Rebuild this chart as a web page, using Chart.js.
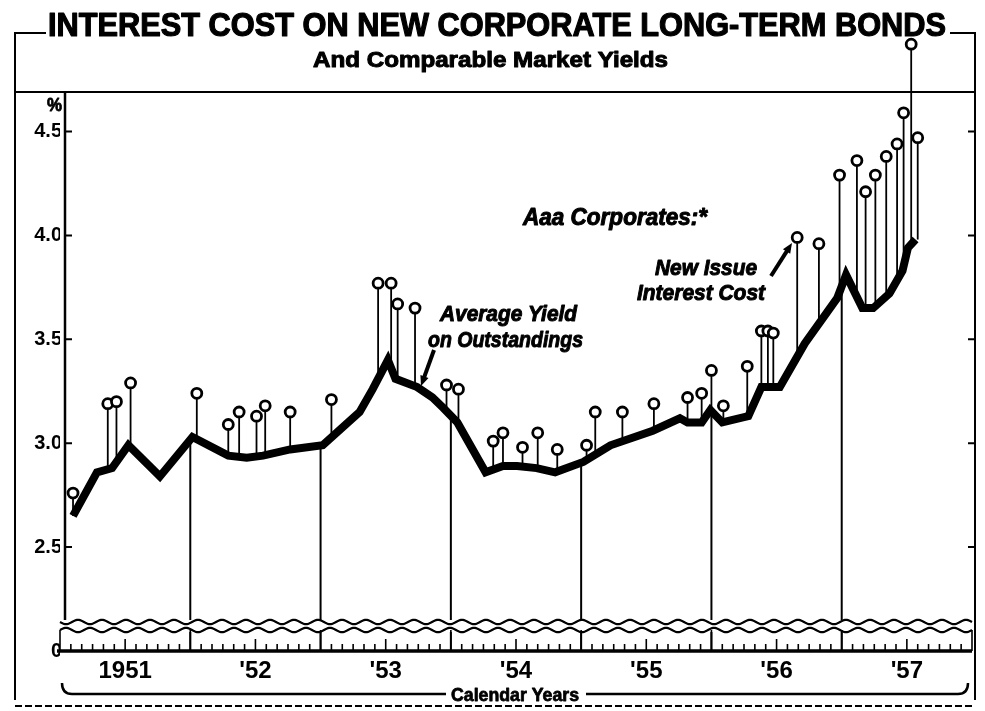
<!DOCTYPE html>
<html>
<head>
<meta charset="utf-8">
<title>Interest Cost on New Corporate Long-Term Bonds</title>
<script src="https://cdn.jsdelivr.net/npm/chart.js@4.4.1/dist/chart.umd.min.js"></script>
<style>
  html, body { margin: 0; padding: 0; background: #fff; }
  #wrap { width: 985px; height: 711px; }
</style>
</head>
<body>
<div id="wrap"><canvas id="bondChart" width="985" height="711"></canvas></div>
<script>
// months counted from the start of Jan 1951
const aaaMonths = [1.2, 3.4, 4.8, 6.3, 9.2, 12.2, 15.5, 17.2, 18.7, 21.2, 24.2, 27.6, 28.8, 30.2, 30.9,
  32.9, 34.3, 35.3, 36.6, 39.2, 40.8, 42.1, 43.9, 45.6, 48.2, 50.7, 54.6, 57.1, 57.8, 59.1, 59.9,
  61.0, 63.4, 64.6, 66.3, 68.6, 71.6, 72.4, 73.9, 74.9, 76.4, 77.6, 78.1, 78.8];
const aaaYields = [2.65, 2.86, 2.88, 2.99, 2.84, 3.03, 2.94, 2.93, 2.94, 2.97, 2.99, 3.15, 3.26, 3.40, 3.31,
  3.27, 3.22, 3.17, 3.10, 2.86, 2.89, 2.89, 2.88, 2.86, 2.91, 2.99, 3.06, 3.12, 3.10, 3.10, 3.16,
  3.10, 3.13, 3.27, 3.27, 3.48, 3.70, 3.81, 3.65, 3.65, 3.72, 3.83, 3.94, 3.98];

const issueMonths = [1.2, 4.4, 5.2, 6.5, 12.6, 15.5, 16.5, 18.1, 18.9, 21.2, 25.0, 29.3, 30.5, 31.1, 32.7,
  35.6, 36.7, 39.9, 40.8, 42.6, 44.0, 45.8, 48.5, 49.3, 51.8, 54.7, 57.8, 59.1, 60.0, 61.1, 63.3,
  64.6, 65.2, 65.7, 67.9, 69.9, 71.8, 73.4, 74.2, 75.1, 76.1, 77.1, 77.7, 78.4, 79.0];
const issueYields = [2.76, 3.19, 3.20, 3.29, 3.24, 3.09, 3.15, 3.13, 3.18, 3.15, 3.21, 3.77, 3.77, 3.67, 3.65,
  3.28, 3.26, 3.01, 3.05, 2.98, 3.05, 2.97, 2.99, 3.15, 3.15, 3.19, 3.22, 3.24, 3.35, 3.18, 3.37,
  3.54, 3.54, 3.53, 3.99, 3.96, 4.29, 4.36, 4.21, 4.29, 4.38, 4.44, 4.59, 4.92, 4.47];

const yearMids = [6, 18, 30, 42, 54, 66, 78];
const yearLabels = ["1951", "'52", "'53", "'54", "'55", "'56", "'57"];
const yearBreaks = [12, 24, 36, 48, 60, 72];
const yTicks = [2.0, 2.5, 3.0, 3.5, 4.0, 4.5];

const FONT = "'Liberation Sans', Arial, Helvetica, sans-serif";
Chart.defaults.font.family = FONT;
Chart.defaults.color = "#000";

// draw text squeezed to a given width (the original lettering is condensed and heavy)
function fitText(ctx, text, left, baseline, width, font, heavy) {
  ctx.save();
  ctx.font = font;
  const w = ctx.measureText(text).width;
  ctx.translate(left, baseline);
  ctx.scale(width / w, 1);
  ctx.textAlign = "left";
  ctx.textBaseline = "alphabetic";
  ctx.fillStyle = "#000";
  ctx.fillText(text, 0, 0);
  if (heavy) {
    ctx.strokeStyle = "#000";
    ctx.lineWidth = heavy;
    ctx.lineJoin = "round";
    ctx.strokeText(text, 0, 0);
  }
  ctx.restore();
}

function lineYAt(chart, px) {
  const pts = chart.getDatasetMeta(0).data;
  if (px <= pts[0].x) return pts[0].y;
  for (let i = 1; i < pts.length; i++) {
    const a = pts[i - 1], b = pts[i];
    if (px <= b.x) {
      const t = (px - a.x) / (b.x - a.x);
      return a.y + t * (b.y - a.y);
    }
  }
  return pts[pts.length - 1].y;
}

function arrow(ctx, x1, y1, x2, y2) {
  const ang = Math.atan2(y2 - y1, x2 - x1);
  ctx.save();
  ctx.strokeStyle = "#000";
  ctx.fillStyle = "#000";
  ctx.lineWidth = 4;
  ctx.beginPath();
  ctx.moveTo(x1, y1);
  ctx.lineTo(x2 - 6 * Math.cos(ang), y2 - 6 * Math.sin(ang));
  ctx.stroke();
  ctx.beginPath();
  ctx.moveTo(x2, y2);
  ctx.lineTo(x2 - 11 * Math.cos(ang - 0.4), y2 - 11 * Math.sin(ang - 0.4));
  ctx.lineTo(x2 - 11 * Math.cos(ang + 0.4), y2 - 11 * Math.sin(ang + 0.4));
  ctx.closePath();
  ctx.fill();
  ctx.restore();
}

const decorPlugin = {
  id: "decor",
  beforeDatasetsDraw(chart) {
    const ctx = chart.ctx;
    const xs = chart.scales.x, ys = chart.scales.y;
    const axisY = ys.getPixelForValue(2.0);
    const waveTop = 622, waveBot = 630;
    const yAxisX = 65, frameR = 975;

    ctx.save();
    ctx.strokeStyle = "#000";
    ctx.lineCap = "butt";

    // outer frame with the title set into its top edge
    ctx.lineWidth = 2;
    ctx.beginPath();
    ctx.moveTo(46, 33); ctx.lineTo(15, 33); ctx.lineTo(15, 700);
    ctx.moveTo(950, 33); ctx.lineTo(frameR, 33); ctx.lineTo(frameR, 700);
    ctx.moveTo(15, 92); ctx.lineTo(frameR, 92);
    ctx.stroke();
    ctx.setLineDash([7, 3]);
    ctx.beginPath();
    ctx.moveTo(15, 706); ctx.lineTo(frameR, 706);
    ctx.stroke();
    ctx.setLineDash([]);

    fitText(ctx, "INTEREST COST ON NEW CORPORATE LONG-TERM BONDS", 48, 36, 898, "bold 33px " + FONT, 1.2);
    fitText(ctx, "And Comparable Market Yields", 313, 67, 355, "bold 22px " + FONT, 1);

    // left axis line and inward ticks on both sides
    ctx.lineWidth = 2.5;
    ctx.beginPath();
    ctx.moveTo(yAxisX, 92); ctx.lineTo(yAxisX, waveTop);
    ctx.stroke();
    ctx.lineWidth = 2;
    yTicks.slice(1).forEach(v => {
      const py = ys.getPixelForValue(v);
      ctx.beginPath();
      ctx.moveTo(yAxisX, py); ctx.lineTo(yAxisX + 7, py);
      ctx.moveTo(frameR, py); ctx.lineTo(frameR - 7, py);
      ctx.stroke();
    });
    fitText(ctx, "%", 47, 111, 15, "bold 19px " + FONT, 0.8);

    // year drop lines from the Aaa line to the base
    ctx.lineWidth = 2;
    yearBreaks.forEach(m => {
      const px = xs.getPixelForValue(m);
      ctx.beginPath();
      ctx.moveTo(px, lineYAt(chart, px)); ctx.lineTo(px, axisY);
      ctx.stroke();
    });

    // stems from each new-issue circle down to the Aaa line
    ctx.lineWidth = 1.8;
    chart.getDatasetMeta(1).data.forEach(pt => {
      ctx.beginPath();
      ctx.moveTo(pt.x, pt.y); ctx.lineTo(pt.x, lineYAt(chart, pt.x));
      ctx.stroke();
    });

    // broken scale: two wavy lines
    const x0 = xs.getPixelForValue(0), x1 = xs.getPixelForValue(84);
    ctx.fillStyle = "#fff";
    ctx.fillRect(x0, waveTop - 2, x1 - x0, waveBot - waveTop + 4);
    ctx.lineWidth = 2.2;
    [[waveTop, 1], [waveBot, -1]].forEach(([wy, sgn]) => {
      ctx.beginPath();
      for (let px = x0; px <= x1; px += 1) {
        const yy = wy + sgn * 2.2 * Math.sin((px - x0) * 2 * Math.PI / 24);
        if (px === x0) ctx.moveTo(px, yy); else ctx.lineTo(px, yy);
      }
      ctx.stroke();
    });

    // month ticks on the base strip
    ctx.lineWidth = 1.6;
    for (let m = 0; m <= 84; m++) {
      const px = xs.getPixelForValue(m);
      let top = axisY - 7;
      if (m % 12 === 0) top = waveBot;
      else if (m % 6 === 0) top = axisY - 12;
      ctx.beginPath();
      ctx.moveTo(px, top); ctx.lineTo(px, axisY);
      ctx.stroke();
    }
    ctx.lineWidth = 3.5;
    ctx.beginPath();
    ctx.moveTo(57, axisY); ctx.lineTo(x1, axisY);
    ctx.stroke();

    // "Calendar Years" bracket
    const by = 694;
    ctx.lineWidth = 2.5;
    ctx.beginPath();
    ctx.moveTo(62, 683); ctx.quadraticCurveTo(62, by, 72, by); ctx.lineTo(446, by);
    ctx.moveTo(586, by); ctx.lineTo(958, by); ctx.quadraticCurveTo(968, by, 968, 683);
    ctx.stroke();
    fitText(ctx, "Calendar Years", 451, 701, 128, "bold 19px " + FONT, 0.8);

    // labels in the plot
    const it = "italic bold 22px " + FONT;
    fitText(ctx, "Aaa Corporates:*", 523, 225, 184, "italic bold 23px " + FONT, 1);
    fitText(ctx, "Average Yield", 440, 321, 137, it, 1);
    fitText(ctx, "on Outstandings", 428, 347, 155, it, 1);
    fitText(ctx, "New Issue", 655, 275, 102, it, 1);
    fitText(ctx, "Interest Cost", 637, 300, 128, it, 1);
    arrow(ctx, 434, 350, 421, 386);
    arrow(ctx, 771, 276, 792, 243);

    ctx.restore();
  },
  afterDatasetsDraw(chart) {
    // the library skips points outside the plot area; the top 1957 issue runs into the title band
    const ctx = chart.ctx;
    const area = chart.chartArea;
    chart.getDatasetMeta(1).data.forEach(pt => {
      if (pt.y < area.top) pt.draw(ctx);
    });
  }
};

const ctx = document.getElementById("bondChart").getContext("2d");
const bondChart = new Chart(ctx, {
  type: "line",
  data: {
    datasets: [
      {
        label: "Average Yield on Outstandings",
        data: aaaMonths.map((m, i) => ({ x: m, y: aaaYields[i] })),
        borderColor: "#000",
        borderWidth: 8,
        borderJoinStyle: "miter",
        pointRadius: 0,
        tension: 0,
        order: 2
      },
      {
        label: "New Issue Interest Cost",
        data: issueMonths.map((m, i) => ({ x: m, y: issueYields[i] })),
        showLine: false,
        pointStyle: "circle",
        pointRadius: 5,
        pointBorderWidth: 2.8,
        pointBorderColor: "#000",
        pointBackgroundColor: "#fff",
        clip: false,
        order: 1
      }
    ]
  },
  options: {
    responsive: false,
    animation: false,
    layout: { padding: { top: 92, right: 13, bottom: 0, left: 0 } },
    plugins: {
      legend: { display: false },
      tooltip: { enabled: false }
    },
    scales: {
      x: {
        type: "linear",
        min: 0,
        max: 84,
        afterFit: s => { s.height = 60; },
        afterBuildTicks: s => { s.ticks = yearMids.map(v => ({ value: v })); },
        grid: { display: false, drawTicks: false },
        border: { display: false },
        ticks: {
          autoSkip: false,
          maxRotation: 0,
          padding: 6,
          font: { size: 24, weight: "bold" },
          callback: v => yearLabels[yearMids.indexOf(v)]
        }
      },
      y: {
        type: "linear",
        min: 2.0,
        max: 4.69,
        afterFit: s => { s.width = 60; },
        afterBuildTicks: s => { s.ticks = yTicks.map(v => ({ value: v })); },
        grid: { display: false, drawTicks: false },
        border: { display: false },
        ticks: {
          padding: -2,
          font: { size: 20, weight: "bold" },
          callback: v => (v === 2 ? "0" : v.toFixed(1))
        }
      }
    }
  },
  plugins: [decorPlugin]
});
</script>
</body>
</html>
